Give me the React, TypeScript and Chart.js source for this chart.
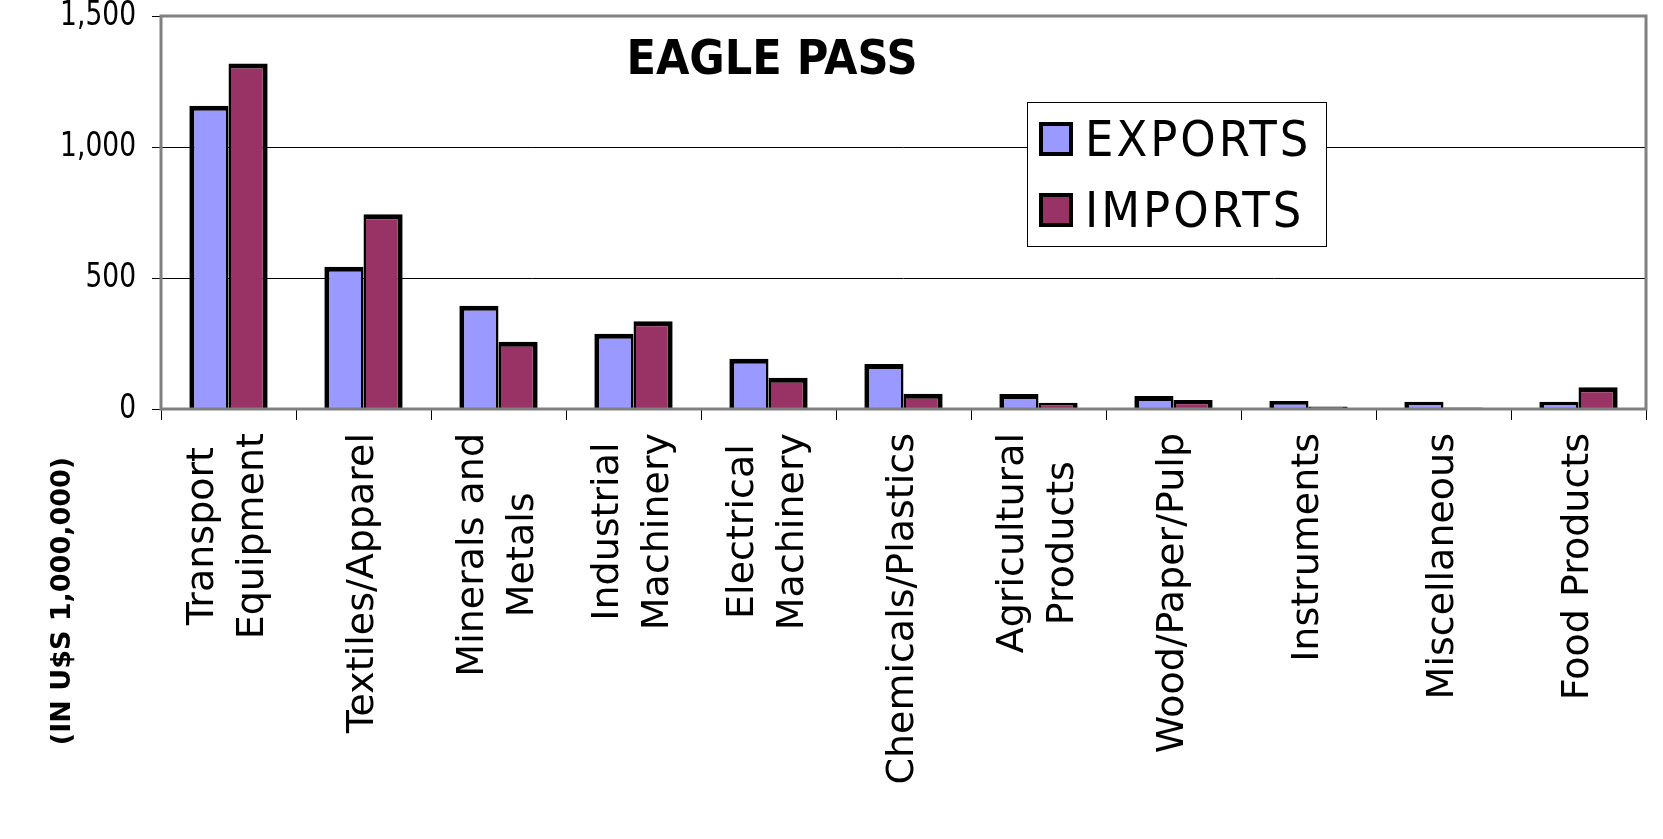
import React, { useEffect, useRef } from 'react';
import { Chart, registerables } from 'chart.js';

Chart.register(...registerables);

// ---- data ----
const categories: string[][] = [
  ['Transport', 'Equipment'],
  ['Textiles/Apparel'],
  ['Minerals and', 'Metals'],
  ['Industrial', 'Machinery'],
  ['Electrical', 'Machinery'],
  ['Chemicals/Plastics'],
  ['Agricultural', 'Products'],
  ['Wood/Paper/Pulp'],
  ['Instruments'],
  ['Miscellaneous'],
  ['Food Products'],
];
const exportValues = [1157, 543, 394, 287, 192, 172, 57, 50, 31, 28, 28];
const importValues = [1319, 743, 257, 335, 119, 58, 24, 34, 10, 6, 83];
const seriesNames = ['EXPORTS', 'IMPORTS'];
const yMin = 0;
const yMax = 1500;
const yStep = 500;
const chartTitle = 'EAGLE PASS';
const yAxisTitle = '(IN U$S 1,000,000)';

const EXPORT_COLOR = '#9999FF';
const IMPORT_COLOR = '#993366';
const FRAME = '#808080';
const COND = "'DejaVu Sans Condensed', 'DejaVu Sans', sans-serif";
const SANS = "'DejaVu Sans', sans-serif";

const decorPlugin = {
  id: 'decor',
  afterDatasetsDraw(chart: any) {
    const { ctx, chartArea: a } = chart;
    ctx.save();
    ctx.strokeStyle = FRAME;
    ctx.lineWidth = 3;
    ctx.strokeRect(a.left, a.top, a.right - a.left, a.bottom - a.top);
    ctx.restore();
  },
  afterDraw(chart: any) {
    const { ctx, chartArea: a, scales } = chart;
    const xs = scales.x;
    const ys = scales.y;
    ctx.save();
    ctx.fillStyle = '#000';

    // y tick labels (narrow)
    ctx.font = `34px ${SANS}`;
    ctx.textAlign = 'right';
    ctx.textBaseline = 'middle';
    ys.ticks.forEach((t: any) => {
      const y = ys.getPixelForValue(t.value);
      ctx.save();
      ctx.translate(a.left - 25, y);
      ctx.scale(0.78, 1);
      ctx.fillText(Number(t.value).toLocaleString('en-US'), 0, 0);
      ctx.restore();
    });

    // category labels (rotated, lines centered on each other)
    ctx.font = `38px ${SANS}`;
    ctx.textAlign = 'center';
    ctx.textBaseline = 'middle';
    const labelTop = a.bottom + 24;
    const lineGap = 50;
    categories.forEach((lines, i) => {
      const cx = xs.getPixelForValue(i);
      const maxW = Math.max(...lines.map((l) => ctx.measureText(l).width));
      const cy = labelTop + maxW / 2;
      lines.forEach((line, j) => {
        const off = (j - (lines.length - 1) / 2) * lineGap;
        ctx.save();
        ctx.translate(cx + off, cy);
        ctx.rotate(-Math.PI / 2);
        ctx.fillText(line, 0, 0);
        ctx.restore();
      });
    });

    // y axis title
    ctx.save();
    ctx.font = `bold 27px ${SANS}`;
    ctx.translate(63, 601);
    ctx.rotate(-Math.PI / 2);
    ctx.textAlign = 'center';
    ctx.textBaseline = 'middle';
    ctx.fillText(yAxisTitle, 0, 0);
    ctx.restore();

    // chart title (inside plot area)
    ctx.font = `bold 48px ${COND}`;
    ctx.textAlign = 'center';
    ctx.textBaseline = 'alphabetic';
    ctx.fillText(chartTitle, 772, 74);

    // legend box
    const lx = 1027, ly = 102, lw = 299, lh = 144;
    ctx.fillStyle = '#fff';
    ctx.fillRect(lx, ly, lw, lh);
    ctx.strokeStyle = '#000';
    ctx.lineWidth = 1;
    ctx.strokeRect(lx + 0.5, ly + 0.5, lw, lh);
    const colors = [EXPORT_COLOR, IMPORT_COLOR];
    const rowY = [139, 210];
    seriesNames.forEach((name, k) => {
      const sy = rowY[k] - 17;
      ctx.fillStyle = colors[k];
      ctx.fillRect(1039, sy, 34, 34);
      ctx.strokeStyle = '#000';
      ctx.lineWidth = 4;
      ctx.strokeRect(1041, sy + 2, 30, 30);
      ctx.fillStyle = '#000';
      ctx.font = `50px ${COND}`;
      (ctx as any).letterSpacing = '3px';
      ctx.textAlign = 'left';
      ctx.textBaseline = 'alphabetic';
      ctx.fillText(name, 1085, rowY[k] + 17);
      (ctx as any).letterSpacing = '0px';
    });

    ctx.restore();
  },
};

export default function App() {
  const canvasRef = useRef<HTMLCanvasElement | null>(null);

  useEffect(() => {
    document.body.style.margin = '0';
    const canvas = canvasRef.current;
    if (!canvas) return;
    const chart = new Chart(canvas, {
      type: 'bar',
      data: {
        labels: categories.map((c) => c.join(' ')),
        datasets: [
          {
            label: seriesNames[0],
            data: exportValues,
            backgroundColor: EXPORT_COLOR,
            borderColor: '#000',
            borderWidth: { top: 5, left: 5, right: 2.5, bottom: 0 },
            borderSkipped: 'start',
          },
          {
            label: seriesNames[1],
            data: importValues,
            backgroundColor: IMPORT_COLOR,
            borderColor: '#000',
            borderWidth: { top: 5, left: 2.5, right: 5, bottom: 0 },
            borderSkipped: 'start',
          },
        ],
      },
      options: {
        responsive: false,
        animation: false,
        devicePixelRatio: 1,
        layout: { padding: { top: 16, right: 17, left: 0, bottom: 0 } },
        datasets: {
          bar: { barPercentage: 1, categoryPercentage: 0.58 },
        },
        plugins: {
          legend: { display: false },
          title: { display: false },
          tooltip: { enabled: false },
        },
        scales: {
          x: {
            offset: true,
            grid: {
              offset: true,
              display: true,
              drawOnChartArea: false,
              drawTicks: true,
              tickLength: 11,
              color: '#000',
              lineWidth: 1,
            },
            border: { display: false },
            ticks: { display: false },
            afterFit(scale: any) {
              scale.height = 430;
              scale.paddingLeft = 0;
              scale.paddingRight = 0;
            },
          },
          y: {
            min: yMin,
            max: yMax,
            ticks: {
              stepSize: yStep,
              display: false,
            },
            grid: {
              color: '#000',
              lineWidth: 1,
              drawTicks: true,
              tickLength: 9,
            },
            border: { display: false },
            afterFit(scale: any) {
              scale.width = 161;
              scale.paddingTop = 0;
              scale.paddingBottom = 0;
            },
          },
        },
      },
      plugins: [decorPlugin],
    } as any);
    return () => chart.destroy();
  }, []);

  return (
    <div style={{ position: 'absolute', left: 0, top: 0, width: 1663, height: 839, background: '#fff' }}>
      <canvas ref={canvasRef} width={1663} height={839} style={{ display: 'block' }} />
    </div>
  );
}
